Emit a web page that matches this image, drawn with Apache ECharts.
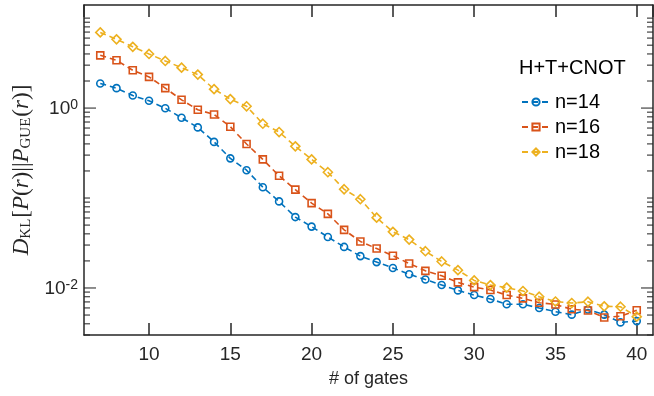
<!DOCTYPE html>
<html><head><meta charset="utf-8">
<script src="https://cdn.jsdelivr.net/npm/echarts@6/dist/echarts.min.js"></script>
<style>html,body{margin:0;padding:0;background:#fff}#c{width:654px;height:396px}</style>
</head><body><div id="c"></div>
<script>
const gates = [7,8,9,10,11,12,13,14,15,16,17,18,19,20,21,22,23,24,25,26,27,28,29,30,31,32,33,34,35,36,37,38,39,40];
const n14 = [1.88,1.666,1.379,1.205,0.995,0.781,0.610,0.421,0.276,0.204,0.132,0.0917,0.0614,0.0481,0.0369,0.0286,0.0226,0.0194,0.0167,0.0142,0.0124,0.0108,0.0094,0.00834,0.00753,0.0066,0.0066,0.00599,0.00545,0.00505,0.00577,0.00505,0.00414,0.00428];
const n16 = [3.86,3.40,2.635,2.222,1.666,1.236,0.958,0.849,0.621,0.399,0.269,0.1766,0.1239,0.0878,0.0667,0.0442,0.0329,0.02745,0.02285,0.01873,0.0155,0.01365,0.01153,0.01023,0.00948,0.00834,0.00767,0.00686,0.00655,0.00579,0.00562,0.0047,0.00485,0.00565];
const n18 = [6.94,5.81,4.80,3.995,3.34,2.816,2.356,1.623,1.258,1.047,0.670,0.542,0.3756,0.269,0.1935,0.1252,0.0970,0.0605,0.0421,0.0345,0.02563,0.0197,0.01578,0.01214,0.01077,0.0101,0.00924,0.00799,0.00707,0.0068,0.00703,0.00625,0.00619,0.0048];
const seriesNames = ['n=14','n=16','n=18'];
const legendTitle = 'H+T+CNOT';
const xName = '# of gates';
const yLabelTicks = [0.01, 1];
const yMinorTicks = [0.003,0.004,0.005,0.006,0.007,0.008,0.009,0.02,0.03,0.04,0.05,0.06,0.07,0.08,0.09,0.1,0.2,0.3,0.4,0.5,0.6,0.7,0.8,0.9,2,3,4,5,6,7,8,9,10];
const xMin = 6, xMax = 41, yMin = 0.003, yMax = 14;

const AX = '#262626';
const colors = ['#0072BD','#D95319','#EDB120'];
const symbols = ['circle','rect','diamond'];
const symSizes = [7,7,9];
const datasets = [n14, n16, n18];

function pairs(arr){ return gates.map((g,i)=>[g, arr[i]]); }

const dataSeries = datasets.map((arr, k) => ({
  name: seriesNames[k], type: 'line', data: pairs(arr),
  symbol: symbols[k], symbolSize: symSizes[k], showSymbol: true,
  itemStyle: {color: 'rgba(255,255,255,0)', borderColor: colors[k], borderWidth: 1.6},
  lineStyle: {color: colors[k], width: 1.6, type: [6,4]},
  emphasis: {disabled: true}, z: 3
}));

function tickSeries(x, vals, len, off) {
  return {
    type: 'scatter', silent: true, clip: false, z: 5,
    data: vals.map(v => [x, v]),
    symbol: 'rect', symbolSize: [len, 1.3], symbolOffset: [off, 0],
    itemStyle: {color: AX}, emphasis: {disabled: true}
  };
}

const chart = echarts.init(document.getElementById('c'), null, {renderer: 'canvas'});
chart.setOption({
  animation: false,
  backgroundColor: '#fff',
  grid: {left: 84, right: 1, top: 5, bottom: 61, containLabel: false, outerBoundsMode: 'none'},
  title: {text: legendTitle, left: 514, top: 53,
    textStyle: {fontFamily: 'Liberation Sans', fontSize: 20, fontWeight: 'normal', color: '#000', lineHeight: 20}},
  legend: {
    data: seriesNames, orient: 'vertical', left: 516, top: 87,
    itemWidth: 28, itemHeight: 9, itemGap: 5,
    textStyle: {fontFamily: 'Liberation Sans', fontSize: 20, color: '#000', lineHeight: 20},
    selectedMode: false
  },
  xAxis: [{
    type: 'value', min: xMin, max: xMax, splitNumber: 7,
    name: xName, nameLocation: 'middle', nameGap: 35,
    nameTextStyle: {fontFamily: 'Liberation Sans', fontSize: 18, color: AX},
    axisLine: {show: true, onZero: false, lineStyle: {color: AX, width: 1.5}},
    axisTick: {show: true, inside: true, length: 12, lineStyle: {color: AX, width: 1.5}},
    axisLabel: {show: true, showMinLabel: false, showMaxLabel: false, margin: 10,
      fontFamily: 'Liberation Sans', fontSize: 19, color: AX},
    splitLine: {show: false}
  },{
    type: 'value', position: 'top', min: xMin, max: xMax, splitNumber: 7,
    axisLine: {show: true, onZero: false, lineStyle: {color: AX, width: 1.5}},
    axisTick: {show: true, inside: true, length: 12, lineStyle: {color: AX, width: 1.5}},
    axisLabel: {show: false}, splitLine: {show: false}
  }],
  yAxis: [{
    type: 'log', logBase: 10, min: yMin, max: yMax,
    name: '{i|D}{sub|KL}{n|[}{i|P}{n|(}{i|r}{n|)||}{i|P}{sub|GUE}{n|(}{i|r}{n|)]}',
    nameLocation: 'middle', nameGap: 42, nameRotate: 90,
    nameTextStyle: {
      color: AX,
      rich: {
        i: {fontFamily: 'Liberation Serif', fontStyle: 'italic', fontSize: 23, color: AX, verticalAlign: 'bottom', lineHeight: 25},
        n: {fontFamily: 'Liberation Serif', fontSize: 23, color: AX, verticalAlign: 'bottom', lineHeight: 25},
        sub: {fontFamily: 'Liberation Serif', fontSize: 15, color: AX, verticalAlign: 'bottom', lineHeight: 15, padding: [0,1,0,0]}
      }
    },
    axisLine: {show: true, onZero: false, lineStyle: {color: AX, width: 1.5}},
    axisTick: {show: false},
    axisLabel: {
      show: true, margin: 6, showMinLabel: false, showMaxLabel: false,
      formatter: function(v){
        for (const t of yLabelTicks) {
          if (Math.abs(Math.log10(v) - Math.log10(t)) < 1e-6) {
            return '{b|10}{s|' + Math.round(Math.log10(t)) + '}';
          }
        }
        return '';
      },
      rich: {
        b: {fontFamily: 'Liberation Sans', fontSize: 19, color: AX, verticalAlign: 'bottom', lineHeight: 20, padding: [10,0,0,0]},
        s: {fontFamily: 'Liberation Sans', fontSize: 14, color: AX, verticalAlign: 'top', lineHeight: 14}
      }
    },
    splitLine: {show: false}, minorTick: {show: false}
  },{
    type: 'log', logBase: 10, min: yMin, max: yMax, position: 'right',
    axisLine: {show: true, onZero: false, lineStyle: {color: AX, width: 1.5}},
    axisTick: {show: false}, axisLabel: {show: false}, splitLine: {show: false}
  }],
  series: dataSeries.concat([
    tickSeries(xMin, yMinorTicks, 6, 3),
    tickSeries(xMin, yLabelTicks, 12, 6),
    tickSeries(xMax, yMinorTicks, 6, -3),
    tickSeries(xMax, yLabelTicks, 12, -6)
  ])
});
</script>
</body></html>
